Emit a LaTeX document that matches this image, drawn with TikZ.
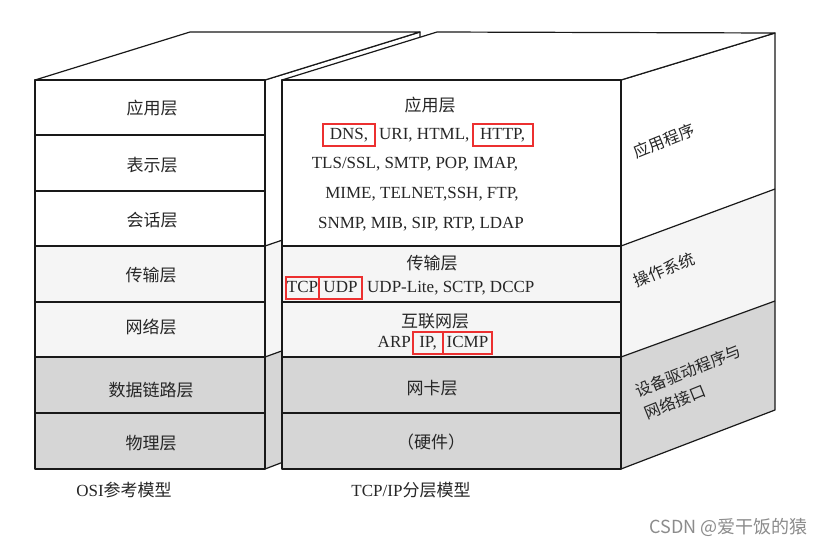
\documentclass[tikz,border=0pt]{standalone}
\usepackage{fontspec}
\setmainfont{Liberation Serif}
\newfontfamily\cjkfont{Noto Sans CJK SC}
\usetikzlibrary{positioning}
\definecolor{boxred}{RGB}{236,48,48}

\begin{document}
\begin{tikzpicture}[x=1pt, y=-1pt,
    edge/.style={line width=1.2pt, line join=round, draw=black!90},
    grey/.style={fill=black!16},
    speck/.style={fill=black!4},
    cn/.style={font=\cjkfont\fontsize{17}{21}\selectfont, text=black!85, inner sep=0pt},
    side/.style={cn, font=\cjkfont\fontsize{16}{24}\selectfont, rotate=22, align=left},
    en/.style={font=\fontsize{17}{20}\selectfont, text=black!85, text height=12pt, text depth=3.5pt, inner ysep=3pt, inner xsep=0pt},
    redbox/.style={en, draw=boxred, line width=2pt}]

    \useasboundingbox[fill=white] (0,0) rectangle (817,546);

    % OSI side face (only a strip shows)
    \fill[white] (265,80) -- (420,32) -- (420,193) -- (265,246) -- cycle;
    \fill[speck] (265,246) -- (420,193) -- (420,301) -- (265,357) -- cycle;
    \fill[grey] (265,357) -- (420,301) -- (420,410) -- (265,469) -- cycle;
    \draw[edge] (265,246) -- (420,193) (265,357) -- (420,301) (265,469) -- (420,410);
    \draw[edge] (265,80) -- (420,32) -- (420,410);

    % OSI top
    \draw[edge, fill=white] (35,80) -- (190,32) -- (420,32) -- (265,80) -- cycle;

    % OSI front
    \fill[white] (35,80) rectangle (265,246);
    \fill[speck] (35,246) rectangle (265,357);
    \fill[grey] (35,357) rectangle (265,469);
    \foreach \y in {135,191,246,302,357,413}
        \draw[edge] (35,\y) -- (265,\y);
    \draw[edge] (35,80) rectangle (265,469);

    % TCP/IP side face
    \fill[white] (621,80) -- (775,33) -- (775,189) -- (621,246) -- cycle;
    \fill[speck] (621,246) -- (775,189) -- (775,301) -- (621,357) -- cycle;
    \fill[grey] (621,357) -- (775,301) -- (775,410) -- (621,469) -- cycle;
    \draw[edge] (621,246) -- (775,189) (621,357) -- (775,301);
    \draw[edge] (621,80) -- (775,33) -- (775,410) -- (621,469);

    % TCP/IP top
    \draw[edge, fill=white] (282,80) -- (437,32) -- (775,33) -- (621,80) -- cycle;

    % TCP/IP front
    \fill[white] (282,80) rectangle (621,246);
    \fill[speck] (282,246) rectangle (621,357);
    \fill[grey] (282,357) rectangle (621,469);
    \foreach \y in {246,302,357,413}
        \draw[edge] (282,\y) -- (621,\y);
    \draw[edge] (282,80) rectangle (621,469);

    % OSI layers
    \node[cn] (osiapp) at (152,108) {应用层};
    \node[cn] (osipres) at (152,165) {表示层};
    \node[cn] (osisess) at (152,220) {会话层};
    \node[cn] (ositrans) at (151,275) {传输层};
    \node[cn] (osinet) at (151,327) {网络层};
    \node[cn] (osilink) at (151,390) {数据链路层};
    \node[cn] (osiphys) at (151,443) {物理层};

    % TCP/IP layers
    \node[cn] (app) at (430,105) {应用层};
    \node[redbox, minimum width=52pt] (dns) at (349,135) {DNS,};
    \node[en, right=3pt of dns] (uri) {URI, HTML,};
    \node[redbox, minimum width=60pt, right=2pt of uri] (http) {HTTP,};
    \node[en] (tls) at (415,164) {TLS/SSL, SMTP, POP, IMAP,};
    \node[en] (mime) at (422,194) {MIME, TELNET,SSH, FTP,};
    \node[en] (snmp) at (421,224) {SNMP, MIB, SIP, RTP, LDAP};

    \node[cn] (trans) at (432,263) {传输层};
    \node[redbox, minimum width=33pt] (tcp) at (302.5,288) {TCP};
    \node[redbox, minimum width=43pt, right=-2pt of tcp] (udp) {UDP};
    \node[en, right=4pt of udp] (udplite) {UDP-Lite, SCTP, DCCP};

    \node[cn] (inet) at (435,321) {互联网层};
    \node[redbox, minimum width=30pt] (ip) at (428,343) {IP,};
    \node[en, left=1pt of ip] (arp) {ARP};
    \node[redbox, minimum width=49pt, right=-2pt of ip] (icmp) {ICMP};

    \node[cn] (nic) at (432,388) {网卡层};
    \node[cn] (hw) at (431,442) {（硬件）};

    % side labels
    \node[side] (prog) at (664,141) {应用程序};
    \node[side] (os) at (664,270) {操作系统};
    \node[side] (driver) at (693,382) {设备驱动程序与\\网络接口};

    % captions
    \node[cn] (osicap) at (124,490) {{\rmfamily OSI}参考模型};
    \node[cn] (tcpcap) at (411,490) {{\rmfamily TCP/IP}分层模型};
    \node[cn, font=\cjkfont\fontsize{18}{21}\selectfont, anchor=east, text=black!45] (mark) at (808,527) {CSDN @爱干饭的猿};
\end{tikzpicture}
\end{document}
